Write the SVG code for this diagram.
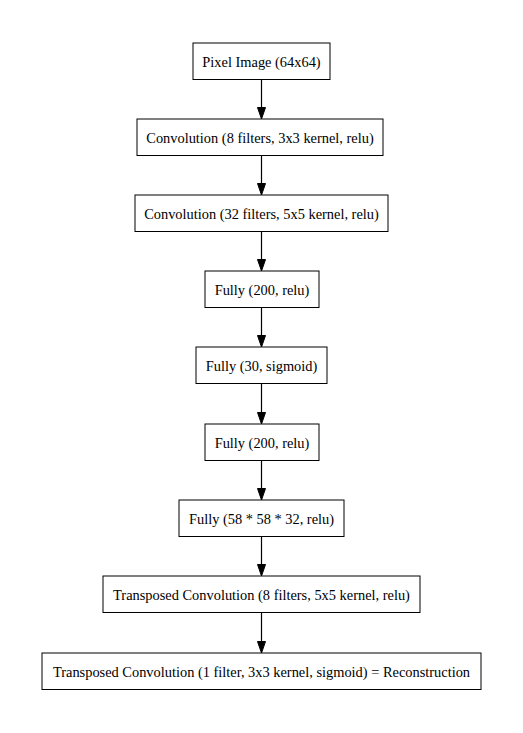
<svg xmlns="http://www.w3.org/2000/svg" width="523" height="733" viewBox="0 0 523 733">
<defs>
<style>
.node rect{fill:#fff;stroke:#000;stroke-width:1}
.node text{font-family:"Liberation Serif","Times New Roman",serif;font-size:14.4px;text-anchor:middle;fill:#000}
.edge line{stroke:#000;stroke-width:1.2}
.edge path{fill:#000;stroke:#000}
</style>
</defs>
<rect width="523" height="733" fill="#fff"/>
<g id="n1" class="node"><rect x="193" y="43" width="137" height="36.5"/><text x="261.5" y="66.5">Pixel Image (64x64)</text></g>
<g id="n2" class="node"><rect x="137" y="119" width="246" height="36.5"/><text x="260" y="142.5">Convolution (8 filters, 3x3 kernel, relu)</text></g>
<g id="n3" class="node"><rect x="135" y="195" width="253" height="36.5"/><text x="261.5" y="218.5">Convolution (32 filters, 5x5 kernel, relu)</text></g>
<g id="n4" class="node"><rect x="205" y="271" width="114" height="36.5"/><text x="262" y="294.5">Fully (200, relu)</text></g>
<g id="n5" class="node"><rect x="196" y="347" width="131" height="36.5"/><text x="261.5" y="370.5">Fully (30, sigmoid)</text></g>
<g id="n6" class="node"><rect x="205" y="424" width="114" height="36.5"/><text x="262" y="447.5">Fully (200, relu)</text></g>
<g id="n7" class="node"><rect x="179" y="500" width="165" height="36.5"/><text x="261.5" y="523.5">Fully (58 * 58 * 32, relu)</text></g>
<g id="n8" class="node"><rect x="103" y="576" width="317" height="36.5"/><text x="261.5" y="599.5">Transposed Convolution (8 filters, 5x5 kernel, relu)</text></g>
<g id="n9" class="node"><rect x="42" y="653" width="439" height="36.5"/><text x="261.5" y="676.5">Transposed Convolution (1 filter, 3x3 kernel, sigmoid) = Reconstruction</text></g>
<g id="edges" class="edge">
<line x1="261.5" y1="79.5" x2="261.5" y2="108"/><path d="M257.5,107.5 L265.5,107.5 L261.5,119 Z"/>
<line x1="261.5" y1="155.5" x2="261.5" y2="184"/><path d="M257.5,183.5 L265.5,183.5 L261.5,195 Z"/>
<line x1="261.5" y1="231.5" x2="261.5" y2="260"/><path d="M257.5,259.5 L265.5,259.5 L261.5,271 Z"/>
<line x1="261.5" y1="307.5" x2="261.5" y2="336"/><path d="M257.5,335.5 L265.5,335.5 L261.5,347 Z"/>
<line x1="261.5" y1="383.5" x2="261.5" y2="413"/><path d="M257.5,412.5 L265.5,412.5 L261.5,424 Z"/>
<line x1="261.5" y1="460.5" x2="261.5" y2="489"/><path d="M257.5,488.5 L265.5,488.5 L261.5,500 Z"/>
<line x1="261.5" y1="536.5" x2="261.5" y2="565"/><path d="M257.5,564.5 L265.5,564.5 L261.5,576 Z"/>
<line x1="261.5" y1="612.5" x2="261.5" y2="642"/><path d="M257.5,641.5 L265.5,641.5 L261.5,653 Z"/>
</g>
</svg>
